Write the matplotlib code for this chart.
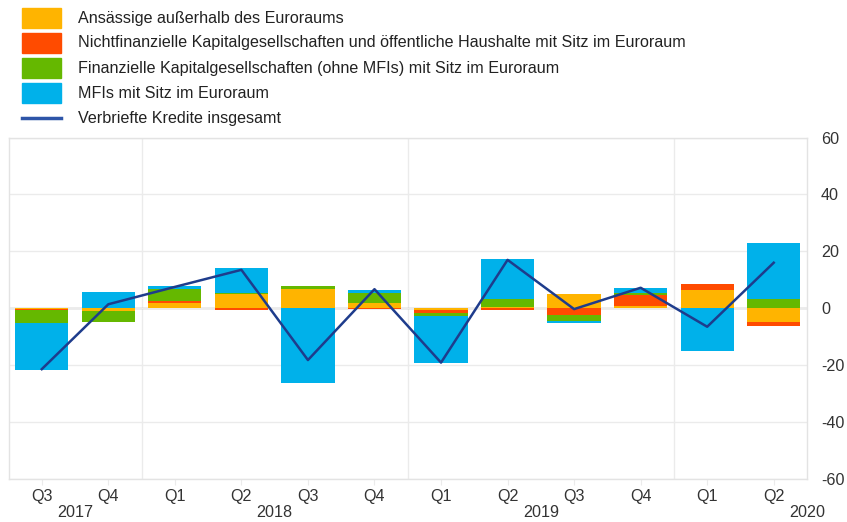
import numpy as np
import matplotlib
matplotlib.use("Agg")
import matplotlib.pyplot as plt
from matplotlib.patches import Rectangle
from matplotlib.lines import Line2D

quarters = ["Q3", "Q4", "Q1", "Q2", "Q3", "Q4", "Q1", "Q2", "Q3", "Q4", "Q1", "Q2"]
years = ["2017", "2018", "2019", "2020"]
year_pos = [0.5, 3.5, 7.5, 11.5]

non_euro = [-0.3, -0.9, 1.9, 4.9, 6.9, 2.0, -0.5, 0.6, 4.9, 0.8, 6.4, -4.8]
nfc_gov = [-0.2, -0.2, 0.6, -0.6, 0.0, -0.3, -1.2, -0.6, -2.3, 3.9, 2.0, -1.4]
ofi = [-4.7, -3.7, 4.3, 0.35, 0.9, 3.2, -0.9, 2.5, -2.1, 0.5, 0.0, 3.2]
mfi = [-16.6, 5.7, 0.9, 9.0, -26.1, 1.2, -16.5, 14.3, -0.8, 2.0, -15.0, 19.6]
total = [-21.4, 1.4, 7.5, 13.5, -18.2, 6.7, -19.1, 17.0, -0.3, 7.2, -6.5, 16.0]

labels = [
    "Ansässige außerhalb des Euroraums",
    "Nichtfinanzielle Kapitalgesellschaften und öffentliche Haushalte mit Sitz im Euroraum",
    "Finanzielle Kapitalgesellschaften (ohne MFIs) mit Sitz im Euroraum",
    "MFIs mit Sitz im Euroraum",
    "Verbriefte Kredite insgesamt",
]
colors = ["#FFB400", "#FF4B00", "#65B800", "#00B1EA"]
line_color = "#1E3C8C"

plt.rcParams['font.family'] = ['Liberation Sans', 'DejaVu Sans']
plt.rcParams['axes.unicode_minus'] = False
fs = 11.6

fig = plt.figure(figsize=(8.47, 5.22), dpi=100)
ax = fig.add_axes([8.5 / 847, 1 - 479 / 522, (807 - 8.5) / 847, (479 - 137.5) / 522])

x = np.arange(len(quarters))
pos_base = np.zeros(len(x))
neg_base = np.zeros(len(x))
for vals, c in zip([non_euro, nfc_gov, ofi, mfi], colors):
    v = np.array(vals)
    p = np.where(v > 0, v, 0)
    n = np.where(v < 0, v, 0)
    ax.bar(x, p, 0.8, bottom=pos_base, color=c, zorder=2)
    ax.bar(x, n, 0.8, bottom=neg_base, color=c, zorder=2)
    pos_base += p
    neg_base += n

ax.plot(x, total, color=line_color, lw=1.8, zorder=3)
ax.axhline(0, color="#a6a6a6", lw=1, zorder=1)

ax.set_xlim(-0.5, 11.5)
ax.set_ylim(-60, 60)
ax.set_yticks(range(-60, 61, 20))
ax.yaxis.tick_right()
ax.tick_params(axis="y", length=0, pad=10, labelsize=fs, labelcolor="#333333")
ax.grid(axis="y", color="#ebebeb", lw=1, zorder=0)
for b in [1.5, 5.5, 9.5]:
    ax.axvline(b, color="#ebebeb", lw=1, zorder=0)
for s in ax.spines.values():
    s.set_color("#e3e3e3")
    s.set_linewidth(1)

ax.set_xticks(x)
ax.set_xticklabels(quarters)
ax.tick_params(axis="x", length=4, color="#ebebeb", pad=3, labelsize=fs, labelcolor="#333333")
for yr, p in zip(years, year_pos):
    ax.text(p, -0.076, yr, transform=ax.get_xaxis_transform(), ha="center", va="top",
            fontsize=fs, color="#333333")

# legend
for i, lab in enumerate(labels):
    yc = 1 - (18 + 25 * i) / 522
    if i < 4:
        fig.add_artist(Rectangle((22 / 847, yc - 10 / 522), 39 / 847, 20 / 522,
                                 transform=fig.transFigure, color=colors[i]))
    else:
        fig.add_artist(Line2D([22 / 847, 61 / 847], [yc, yc], transform=fig.transFigure,
                              color="#2E55A8", lw=2.5))
    fig.text(78 / 847, yc, lab, ha="left", va="center", fontsize=fs, color="#222222")

fig.savefig("out.png", dpi=100)
